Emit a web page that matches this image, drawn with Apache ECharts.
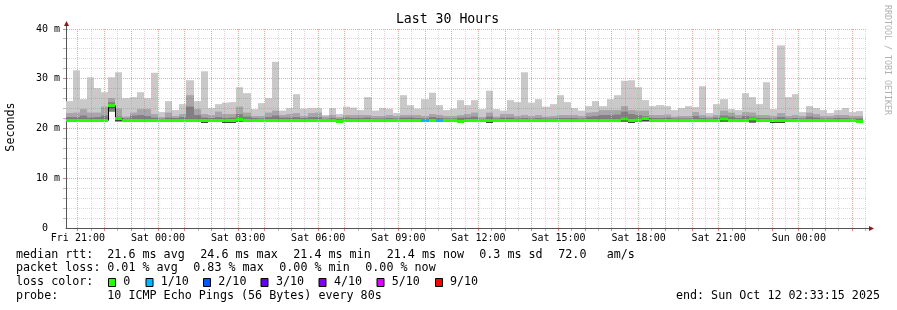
<!DOCTYPE html>
<html><head><meta charset="utf-8">
<script src="https://cdn.jsdelivr.net/npm/echarts@6/dist/echarts.min.js"></script>
<style>html,body{margin:0;padding:0;background:#fff}#c{width:897px;height:310px}</style>
</head><body><div id="c"></div>
<script>
// ---- time axis (hours relative to Fri 21:00) ----
const axisStartHour = -0.44583;   // Fri 20:33:15
const axisEndHour = 29.55417;     // Sun 02:33:15
const firstBarStartHour = -0.46667; // Fri 20:32
const barStepHours = 16 / 60;     // 960 s consolidation

const xTickHours = [0, 3, 6, 9, 12, 15, 18, 21, 24, 27];
const xTickLabels = ['Fri 21:00', 'Sat 00:00', 'Sat 03:00', 'Sat 06:00', 'Sat 09:00',
  'Sat 12:00', 'Sat 15:00', 'Sat 18:00', 'Sat 21:00', 'Sun 00:00'];
const yTickValues = [0, 10, 20, 30, 40];
const yTickLabels = ['0  ', '10 m', '20 m', '30 m', '40 m'];

// ---- smoke (ms) per 16-min bar ----
const smokeMax = [
  25.5, 31.7, 25.9, 30.3, 28.1, 27.3, 30.3, 31.3, 26.1, 26.3,
  27.3, 26.1, 31.2, 23.3, 25.5, 23.7, 24.9, 29.7, 25.5, 31.5,
  24.1, 24.9, 25.2, 25.3, 28.3, 27.1, 23.9, 25.1, 26.1, 33.4,
  23.6, 24.1, 26.9, 24.0, 24.1, 24.1, 22.7, 24.1, 22.9, 24.4,
  24.2, 23.7, 26.3, 23.6, 24.1, 24.0, 23.1, 26.7, 24.7, 24.0,
  25.9, 27.2, 24.7, 23.7, 24.0, 25.7, 24.7, 25.7, 23.9, 27.6,
  23.9, 23.6, 25.7, 25.3, 31.3, 25.2, 25.9, 24.4, 24.9, 26.7,
  25.3, 24.1, 23.6, 24.5, 25.5, 24.5, 25.9, 26.7, 29.6, 29.7,
  28.3, 25.7, 24.5, 24.7, 24.5, 23.7, 24.1, 24.5, 24.3, 28.5,
  23.1, 24.9, 25.9, 23.9, 23.7, 27.1, 26.3, 24.9, 29.3, 23.9,
  36.7, 26.3, 26.9, 23.3, 24.5, 24.1, 23.7, 23.1, 23.7, 24.1,
  23.3, 23.5];
const smokeP9 = [
  23.1, 23.2, 23.9, 23.2, 23.2, 24.4, 26.1, 24.0, 22.4, 23.2,
  23.9, 23.9, 22.9, 22.3, 23.2, 22.5, 22.9, 26.7, 23.9, 22.9,
  22.7, 23.4, 22.9, 22.9, 24.4, 23.2, 22.5, 22.5, 23.2, 23.6,
  22.7, 22.9, 23.1, 22.5, 23.1, 23.2, 22.4, 22.7, 22.3, 22.7,
  22.7, 22.7, 22.7, 22.5, 22.5, 22.7, 22.5, 22.7, 22.7, 22.7,
  22.5, 22.9, 22.7, 22.5, 22.5, 22.7, 22.9, 23.2, 22.3, 23.2,
  22.4, 22.9, 22.9, 22.5, 22.7, 22.5, 22.7, 22.4, 22.5, 22.7,
  22.7, 22.7, 22.5, 23.2, 23.3, 23.7, 23.7, 23.7, 24.5, 23.7,
  23.6, 23.6, 22.7, 22.7, 22.8, 22.4, 22.5, 22.5, 23.3, 22.7,
  22.4, 22.7, 23.6, 23.2, 22.7, 23.3, 23.2, 22.7, 22.7, 22.5,
  23.1, 22.5, 22.7, 22.5, 23.2, 22.9, 22.5, 22.5, 22.7, 22.7,
  22.5, 22.5];
const smokeP8 = [
  22.3, 22.3, 22.6, 22.2, 22.3, 22.6, 25.3, 22.4, 22.0, 22.6,
  22.7, 22.5, 22.2, 21.9, 22.2, 22.1, 22.3, 24.4, 22.7, 22.2,
  22.1, 22.3, 22.1, 22.2, 22.9, 22.4, 22.1, 22.0, 22.3, 22.6,
  22.2, 22.2, 22.3, 22.1, 22.3, 22.3, 21.9, 22.1, 21.9, 22.2,
  22.1, 22.1, 22.2, 22.0, 22.0, 22.1, 22.0, 22.2, 22.2, 22.1,
  22.0, 22.3, 22.1, 22.0, 22.0, 22.2, 22.2, 22.4, 21.9, 22.4,
  22.0, 22.2, 22.2, 22.0, 22.1, 22.0, 22.1, 22.0, 22.0, 22.1,
  22.1, 22.1, 22.0, 22.4, 22.5, 22.7, 22.7, 22.8, 23.4, 22.9,
  22.7, 22.5, 22.1, 22.1, 22.2, 22.0, 22.0, 22.0, 22.5, 22.1,
  22.0, 22.2, 22.6, 22.4, 22.1, 22.5, 22.4, 22.1, 22.1, 22.0,
  22.3, 22.0, 22.1, 22.0, 22.4, 22.2, 22.0, 22.0, 22.1, 22.1,
  22.0, 22.0];
const smokeLow = [
  21.4, 21.4, 21.4, 21.4, 21.4, 21.4, 23.4, 21.4, 21.4, 21.4,
  21.4, 21.4, 21.4, 21.4, 21.4, 21.4, 21.4, 21.4, 21.4, 21.1,
  21.4, 21.4, 21.1, 21.1, 21.4, 21.4, 21.4, 21.4, 21.4, 21.4,
  21.4, 21.4, 21.4, 21.4, 21.4, 21.4, 21.4, 21.4, 21.4, 21.4,
  21.4, 21.4, 21.4, 21.4, 21.4, 21.4, 21.4, 21.4, 21.4, 21.4,
  21.4, 21.4, 21.4, 21.4, 21.4, 21.4, 21.4, 21.4, 21.4, 21.1,
  21.4, 21.4, 21.4, 21.4, 21.4, 21.4, 21.4, 21.4, 21.4, 21.4,
  21.4, 21.4, 21.4, 21.4, 21.4, 21.4, 21.4, 21.4, 21.4, 21.1,
  21.4, 21.4, 21.4, 21.4, 21.4, 21.4, 21.4, 21.4, 21.4, 21.4,
  21.4, 21.4, 21.4, 21.4, 21.4, 21.4, 21.1, 21.4, 21.4, 21.1,
  21.1, 21.4, 21.4, 21.4, 21.4, 21.4, 21.4, 21.4, 21.4, 21.4,
  21.4, 21.2];
const medianRtt = [
  21.6, 21.6, 21.6, 21.6, 21.6, 21.6, 24.6, 22.0, 21.6, 21.6,
  21.6, 21.6, 21.6, 21.6, 21.6, 21.6, 21.6, 21.6, 21.6, 21.6,
  21.6, 21.6, 21.6, 21.6, 21.8, 21.6, 21.6, 21.6, 21.6, 21.6,
  21.6, 21.6, 21.6, 21.6, 21.6, 21.6, 21.6, 21.6, 21.4, 21.6,
  21.6, 21.6, 21.6, 21.6, 21.6, 21.6, 21.6, 21.6, 21.6, 21.6,
  21.6, 21.6, 21.6, 21.6, 21.6, 21.4, 21.6, 21.6, 21.6, 21.6,
  21.6, 21.6, 21.6, 21.6, 21.6, 21.6, 21.6, 21.6, 21.6, 21.6,
  21.6, 21.6, 21.6, 21.6, 21.6, 21.6, 21.6, 21.6, 21.9, 21.6,
  21.7, 22.0, 21.6, 21.6, 21.6, 21.6, 21.6, 21.6, 21.6, 21.6,
  21.6, 21.6, 21.9, 21.6, 21.6, 21.6, 21.9, 21.6, 21.6, 21.6,
  21.6, 21.6, 21.6, 21.6, 21.6, 21.6, 21.6, 21.6, 21.6, 21.6,
  21.6, 21.4];
const lossLevel = [
  0, 0, 0, 0, 0, 0, 0, 0, 0, 0,  0, 0, 0, 0, 0, 0, 0, 0, 0, 0,
  0, 0, 0, 0, 0, 0, 0, 0, 0, 0,  0, 0, 0, 0, 0, 0, 0, 0, 0, 0,
  0, 0, 0, 0, 0, 0, 0, 0, 0, 0,  1, 0, 1, 0, 0, 0, 0, 0, 0, 0,
  0, 0, 0, 0, 0, 0, 0, 0, 0, 0,  0, 0, 0, 0, 0, 0, 0, 0, 0, 0,
  0, 0, 0, 0, 0, 0, 0, 0, 0, 0,  0, 0, 0, 0, 0, 0, 0, 0, 0, 0,
  0, 0, 0, 0, 0, 0, 0, 0, 0, 0,  0, 0];

const lossColors = ['#26ff00', '#00b8ff', '#0059ff', '#5e00ff', '#7e00ff', '#dd00ff', '#ff0000'];
const lossLabels = ['0', '1/10', '2/10', '3/10', '4/10', '5/10', '9/10'];

// ---- build ----
const FONT = '"DejaVu Sans Mono", monospace';
const smokeData = smokeMax.map((m, j) => {
  const t0 = firstBarStartHour + j * barStepHours;
  return [t0, t0 + barStepHours, smokeLow[j], smokeP8[j], smokeP9[j], m, medianRtt[j],
    lossLevel[j], j > 0 ? medianRtt[j - 1] : medianRtt[j]];
});

const vGrid = [];
for (let h = 0; h <= axisEndHour; h += 0.5) vGrid.push([h, h % 1 === 0 ? 1 : 0]);
const hGrid = [];
for (let v = 2; v <= 40; v += 2) hGrid.push([v, v % 10 === 0 ? 1 : 0]);

const MAJ = '#f2a4a4';
const MIN = 'rgba(70,70,70,0.20)';
const MAJ_T = '#e88080';
const MIN_T = 'rgba(80,80,80,0.4)';

function renderSmoke(params, api) {
  const cs = params.coordSys;
  const t0 = api.value(0), t1 = api.value(1);
  let xa = Math.round(api.coord([t0, 0])[0]);
  let xb = Math.round(api.coord([t1, 0])[0]);
  xa = Math.max(xa, cs.x); xb = Math.min(xb, cs.x + cs.width);
  if (xb <= xa) return null;
  const Y = v => api.coord([t0, v])[1];
  const box = (lo, hi, fill) => {
    const y1 = Y(hi), y0 = Y(lo);
    return { type: 'rect', shape: { x: xa, y: y1, width: xb - xa, height: y0 - y1 }, style: { fill } };
  };
  const low = api.value(2), p8 = api.value(3), p9 = api.value(4), mx = api.value(5);
  const med = api.value(6), loss = api.value(7), prev = api.value(8);
  const ch = [
    box(low, mx, '#c9c9c9'),
    box(low, p9, '#a6a6a6'),
    box(low, p8, '#808080'),
    box(Math.max(low, med - 0.5), med, '#404040')
  ];
  if (Math.abs(prev - med) > 0.05) {
    ch.push({ type: 'line', shape: { x1: xa + 0.5, y1: Y(prev), x2: xa + 0.5, y2: Y(med) },
      style: { stroke: '#000', lineWidth: 1 } });
  }
  ch.push(box(med - 0.3, med + 0.3, lossColors[loss]));
  return { type: 'group', children: ch };
}

function renderVGrid(params, api) {
  const cs = params.coordSys;
  const h = api.value(0), major = api.value(1) === 1;
  const x = Math.floor(api.coord([h, 0])[0]) + 0.5;
  return { type: 'group', children: [
    { type: 'line', shape: { x1: x, y1: cs.y, x2: x, y2: cs.y + cs.height },
      style: { stroke: major ? MAJ : MIN, fill: null, lineWidth: 1, lineDash: [1, 1] } },
    { type: 'line', shape: { x1: x, y1: cs.y + cs.height + 1, x2: x, y2: cs.y + cs.height + 3 },
      style: { stroke: major ? MAJ_T : MIN_T, fill: null, lineWidth: 1 } }
  ] };
}
function renderHGrid(params, api) {
  const cs = params.coordSys;
  const v = api.value(0), major = api.value(1) === 1;
  const y = Math.floor(api.coord([0, v])[1]) + 0.5;
  return { type: 'group', children: [
    { type: 'line', shape: { x1: cs.x + 1, y1: y, x2: cs.x + cs.width, y2: y },
      style: { stroke: major ? MAJ : MIN, fill: null, lineWidth: 1, lineDash: [1, 1] } },
    { type: 'line', shape: { x1: cs.x - 3, y1: y, x2: cs.x, y2: y },
      style: { stroke: major ? MAJ_T : MIN_T, fill: null, lineWidth: 1 } }
  ] };
}

const txt = (x, y, text, align) => ({
  type: 'text', x, y, silent: true,
  style: { text, font: '11.7px ' + FONT, fill: '#000', align: align || 'left', verticalAlign: 'middle' }
});

const L1 = 254.5, L2 = 268.3, L3 = 282.2, L4 = 296;
const graphics = [
  { type: 'text', x: 447.5, y: 19.5, silent: true,
    style: { text: 'Last 30 Hours', font: '13.2px ' + FONT, fill: '#000', align: 'center', verticalAlign: 'middle' } },
  { type: 'text', x: 11, y: 127, rotation: Math.PI / 2, silent: true,
    style: { text: 'Seconds', font: '11.7px ' + FONT, fill: '#000', align: 'center', verticalAlign: 'middle' } },
  { type: 'text', x: 887, y: 60, rotation: -Math.PI / 2, silent: true,
    style: { text: 'RRDTOOL / TOBI OETIKER', font: '8.3px ' + FONT, fill: '#b0b0b0', align: 'center', verticalAlign: 'middle' } },
  { type: 'line', silent: true, shape: { x1: 66.5, y1: 24, x2: 66.5, y2: 29 }, style: { stroke: '#555', lineWidth: 1 } },
  { type: 'polygon', silent: true, shape: { points: [[66.5, 21], [64, 26], [69, 26]] }, style: { fill: '#8b1a1a' } },
  { type: 'line', silent: true, shape: { x1: 866, y1: 228.5, x2: 870, y2: 228.5 }, style: { stroke: '#555', lineWidth: 1 } },
  { type: 'polygon', silent: true, shape: { points: [[874, 228.5], [869, 226], [869, 231]] }, style: { fill: '#8b1a1a' } },
  txt(16, L1, 'median rtt:'), txt(107.3, L1, '21.6 ms avg'), txt(200.3, L1, '24.6 ms max'),
  txt(293.3, L1, '21.4 ms min'), txt(386.7, L1, '21.4 ms now'), txt(479.3, L1, '0.3 ms sd'),
  txt(558.3, L1, '72.0'), txt(606.7, L1, 'am/s'),
  txt(16, L2, 'packet loss:'), txt(107.3, L2, '0.01 % avg'), txt(193.3, L2, '0.83 % max'),
  txt(279.3, L2, '0.00 % min'), txt(365.3, L2, '0.00 % now'),
  txt(16, L3, 'loss color:'),
  txt(16, L4, 'probe:'), txt(107.3, L4, '10 ICMP Echo Pings (56 Bytes) every 80s'),
  txt(880, L4, 'end: Sun Oct 12 02:33:15 2025', 'right')
];
const boxX = [108.5, 146, 203.5, 261, 319, 377, 435.5];
const labX = [123.3, 160.7, 218.3, 276, 334, 391.7, 450];
lossColors.forEach((c, i) => {
  graphics.push({ type: 'rect', silent: true, shape: { x: boxX[i], y: 278.5, width: 7, height: 8 },
    style: { fill: c, stroke: '#000', lineWidth: 1 } });
  graphics.push(txt(labX[i], L3, lossLabels[i]));
});

const chart = echarts.init(document.getElementById('c'), null, { renderer: 'canvas' });
chart.setOption({
  animation: false,
  backgroundColor: '#ffffff',
  grid: { left: 66, top: 29, width: 801, height: 199, containLabel: false },
  xAxis: {
    type: 'value', min: axisStartHour, max: axisEndHour,
    axisLine: { show: true, onZero: false, lineStyle: { color: '#555', width: 1 } },
    axisTick: { show: false }, splitLine: { show: false },
    axisLabel: {
      customValues: xTickHours, showMinLabel: true, showMaxLabel: true,
      formatter: v => { const i = xTickHours.indexOf(Math.round(v * 1000) / 1000); return i >= 0 ? xTickLabels[i] : ''; },
      fontFamily: FONT, fontSize: 10, color: '#000', margin: 5
    }
  },
  yAxis: {
    type: 'value', min: 0, max: 40, interval: 10,
    axisLine: { show: true, onZero: false, lineStyle: { color: '#555', width: 1 } },
    axisTick: { show: false }, splitLine: { show: false },
    axisLabel: {
      formatter: v => { const i = yTickValues.indexOf(v); return i >= 0 ? yTickLabels[i] : ''; },
      fontFamily: FONT, fontSize: 10, color: '#000', margin: 6
    }
  },
  series: [
    { type: 'custom', name: 'smoke', renderItem: renderSmoke, data: smokeData, clip: true, silent: true, z: 2,
      encode: { x: [0, 1], y: [2, 5] } },
    { type: 'custom', name: 'vgrid', renderItem: renderVGrid, data: vGrid, clip: false, silent: true, z: 5,
      dimensions: ['h', 'major'], encode: { x: 0 } },
    { type: 'custom', name: 'hgrid', renderItem: renderHGrid, data: hGrid, clip: false, silent: true, z: 5,
      dimensions: ['v', 'major'], encode: { y: 0 } }
  ],
  graphic: { elements: graphics }
});
</script>
</body></html>
